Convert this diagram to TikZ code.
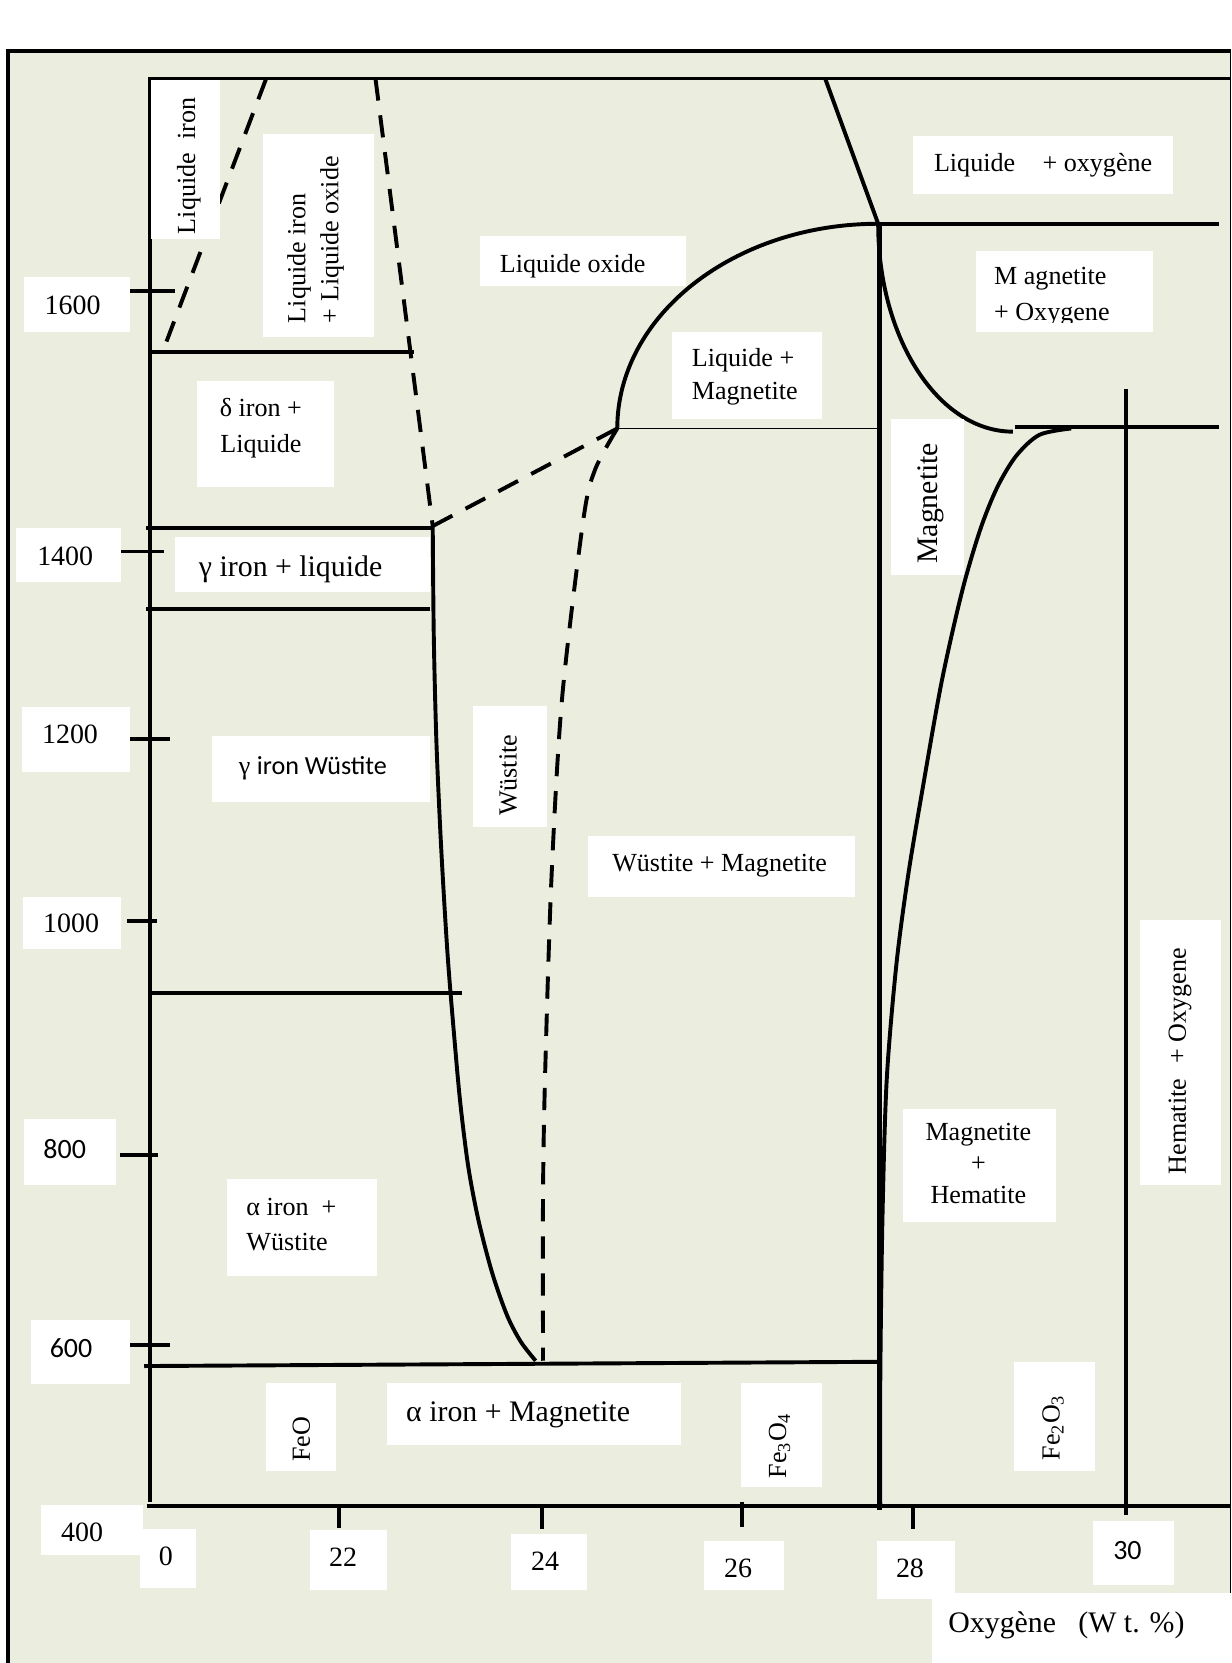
\documentclass[tikz,border=0pt]{standalone}
\usepackage{fontspec}
\setmainfont{Liberation Serif}
\newfontfamily\calibri{Carlito}
\definecolor{fundo}{RGB}{235,238,223}
\setlength{\tabcolsep}{0pt}

\begin{document}
\begin{tikzpicture}[
  every node/.style={inner sep=0pt, text depth=0pt, font=\fontsize{14}{17}\selectfont},
  bloco/.style={text depth=},
  maior/.style={font=\fontsize{16}{19}\selectfont},
  numero/.style={font=\fontsize{15}{18}\selectfont},
  sans/.style={font=\fontsize{15}{18}\selectfont\calibri},
  linha/.style={line width=2.1pt},
  grossa/.style={line width=2.6pt},
  fina/.style={line width=0.9pt},
  tracejada/.style={line width=2.1pt, dash pattern=on 0.42cm off 0.28cm},
  caixa/.style={fill=white}
]

% FUNDO
\useasboundingbox (0,0) rectangle (23.22,-31.36);
\fill[fundo] (0.15,-0.96) rectangle (23.22,-31.36);
\draw[linha] (0.15,-31.36) -- (0.15,-0.96) -- (23.22,-0.96);
\draw[line width=0.5pt] (23.20,-0.96) -- (23.20,-31.36);

% EIXOS
\draw[linha] (2.82,-1.46) -- (2.82,-28.32);
\draw[linha] (2.82,-1.48) -- (23.22,-1.48);
\draw[linha] (2.78,-28.40) -- (23.22,-28.40);

% MARCAS DO EIXO VERTICAL
\draw[linha] (2.46,-5.48) -- (3.30,-5.48);
\draw[linha] (2.28,-10.40) -- (3.10,-10.40);
\draw[linha] (2.46,-13.94) -- (3.20,-13.94);
\draw[linha] (2.40,-17.36) -- (2.96,-17.36);
\draw[linha] (2.26,-21.78) -- (2.98,-21.78);
\draw[linha] (2.46,-25.36) -- (3.20,-25.36);

% MARCAS DO EIXO HORIZONTAL
\draw[linha] (6.40,-28.40) -- (6.40,-28.82);
\draw[linha] (10.22,-28.40) -- (10.22,-28.84);
\draw[linha] (14.00,-28.32) -- (14.00,-28.80);
\draw[linha] (17.22,-28.40) -- (17.22,-28.84);

% LADO DO FERRO
\draw[tracejada] (5.02,-1.48) -- (3.14,-6.44);
\draw[tracejada] (7.08,-1.48) -- (8.16,-9.92);
\draw[linha] (2.82,-6.64) -- (7.80,-6.64);
\draw[linha] (2.76,-9.96) -- (8.12,-9.96);
\draw[linha] (2.76,-11.48) -- (8.10,-11.48);
\draw[linha] (2.84,-18.72) -- (8.72,-18.72);
\draw[tracejada] (8.16,-9.92) -- (11.64,-8.08);

% WUSTITA
\draw[linha]
plot[smooth] coordinates {
(8.16,-9.92) (8.18,-12.00) (8.23,-14.00) (8.32,-16.00) (8.44,-18.00)
(8.57,-19.60) (8.68,-20.80) (8.83,-22.00) (9.02,-23.00) (9.28,-24.00)
(9.56,-24.80) (9.82,-25.30) (10.10,-25.66)};

\draw[tracejada]
plot[smooth] coordinates {
(11.64,-8.08) (11.22,-8.86) (11.00,-9.80) (10.60,-13.16) (10.40,-16.54)
(10.28,-20.24) (10.24,-22.50) (10.24,-25.66)};

\draw[linha] (2.72,-25.76) -- (16.56,-25.68);

% LIQUIDO E MAGNETITA
\draw[linha]
(11.64,-8.08)
arc[start angle=180, end angle=90, x radius=4.92cm, y radius=3.86cm];
\draw[fina] (11.64,-8.08) -- (16.56,-8.08);
\draw[linha] (15.56,-1.48) -- (16.56,-4.22);
\draw[linha] (16.56,-4.22) -- (22.98,-4.22);
\draw[grossa] (16.58,-4.22) -- (16.58,-28.48);

% LADO DO OXIGENIO
\draw[linha]
(16.56,-4.22)
arc[start angle=180, end angle=270, x radius=2.54cm, y radius=3.92cm];
\draw[linha] (19.14,-8.06) -- (22.98,-8.06);

\draw[linha]
plot[smooth] coordinates {
(20.20,-8.08) (19.60,-8.20) (19.16,-8.60) (18.80,-9.20) (18.48,-10.00)
(18.14,-11.16) (17.76,-12.84) (17.40,-14.86) (17.12,-16.54) (16.90,-18.22)
(16.72,-20.38) (16.64,-23.00) (16.60,-26.00) (16.60,-28.40)};

\draw[linha] (21.24,-7.34) -- (21.24,-28.56);

% ROTULOS DO EIXO VERTICAL
\fill[caixa] (0.46,-5.22) rectangle (2.45,-6.26);
\node[numero] (t1600) at (1.37,-5.76) {1600};

\fill[caixa] (0.30,-9.96) rectangle (2.28,-10.98);
\node[numero] (t1400) at (1.23,-10.48) {1400};

\fill[caixa] (0.42,-13.34) rectangle (2.46,-14.56);
\node[numero] (t1200) at (1.32,-13.84) {1200};

\fill[caixa] (0.44,-16.92) rectangle (2.28,-17.90);
\node[numero] (t1000) at (1.34,-17.41) {1000};

\fill[caixa] (0.46,-21.10) rectangle (2.18,-22.34);
\node[sans] (t800) at (1.22,-21.66) {800};

\fill[caixa] (0.58,-24.90) rectangle (2.46,-26.10);
\node[sans] (t600) at (1.34,-25.42) {600};

\fill[caixa] (0.78,-28.38) rectangle (2.70,-29.32);
\node[numero] (t400) at (1.55,-28.90) {400};

% ROTULOS DO EIXO HORIZONTAL
\fill[caixa] (2.64,-28.84) rectangle (3.70,-29.94);
\node[numero] (x0) at (3.13,-29.35) {0};

\fill[caixa] (5.84,-28.86) rectangle (7.30,-29.98);
\node[numero] (x22) at (6.47,-29.37) {22};

\fill[caixa] (9.64,-28.92) rectangle (11.06,-29.98);
\node[numero] (x24) at (10.28,-29.44) {24};

\fill[caixa] (13.28,-29.06) rectangle (14.78,-29.98);
\node[numero] (x26) at (13.92,-29.57) {26};

\fill[caixa] (16.54,-29.06) rectangle (18.00,-30.16);
\node[numero] (x28) at (17.16,-29.57) {28};

\fill[caixa] (20.62,-28.68) rectangle (22.14,-29.88);
\node[sans] (x30) at (21.26,-29.24) {30};

\fill[caixa] (17.58,-30.04) rectangle (23.22,-31.36);
\node[maior] (eixoO) at (20.11,-30.58) {Oxygène\hspace{0.5em} (W t. \%)};

% FASES
\fill[caixa] (2.84,-1.50) rectangle (4.14,-4.50);
\node[rotate=90] (liqFe) at (3.51,-3.13) {Liquide\ \ iron};

\fill[caixa] (4.96,-2.52) rectangle (7.06,-6.36);
\node[bloco, rotate=90] (liqFeOx) at (5.95,-4.52)
{
\begin{tabular}{l}
Liquide iron\\[0.6pt]
+ Liquide oxide
\end{tabular}
};

\fill[caixa] (9.06,-4.45) rectangle (12.94,-5.40);
\node (liqOx) at (10.80,-4.96) {Liquide oxide};

\fill[caixa] (17.22,-2.56) rectangle (22.12,-3.66);
\node (liqO) at (19.67,-3.06) {Liquide\hspace{0.8em} + oxygène};

\fill[caixa] (18.40,-4.74) rectangle (21.74,-6.26);
\begin{scope}
\clip (18.40,-4.74) rectangle (21.74,-6.08);
\node[bloco, anchor=west] (magO) at (18.74,-5.58)
{
\begin{tabular}{l}
M agnetite\\[2.3pt]
+ Oxygene
\end{tabular}
};
\end{scope}

\fill[caixa] (12.68,-6.26) rectangle (15.50,-7.90);
\node[bloco, anchor=west] (liqMag) at (13.04,-7.10)
{
\begin{tabular}{l}
Liquide +\\[1pt]
Magnetite
\end{tabular}
};

\fill[caixa] (3.72,-7.18) rectangle (6.30,-9.18);
\node[bloco] (deltaLiq) at (4.92,-8.08)
{
\begin{tabular}{c}
δ iron +\\[2.3pt]
Liquide
\end{tabular}
};

\fill[caixa] (3.30,-10.12) rectangle (8.10,-11.16);
\node[maior] (gamaLiq) at (5.48,-10.68) {γ iron + liquide};

\fill[caixa] (4.00,-13.88) rectangle (8.10,-15.12);
\node (gamaWus) at (5.90,-14.44) {γ {\calibri iron Wüstite}};

\fill[caixa] (8.92,-13.32) rectangle (10.32,-15.60);
\node[rotate=90] (wus) at (9.58,-14.62) {Wüstite};

\fill[caixa] (11.08,-15.76) rectangle (16.12,-16.92);
\node (wusMag) at (13.57,-16.28) {Wüstite + Magnetite};

\fill[caixa] (16.80,-7.90) rectangle (18.18,-10.84);
\node[maior, rotate=90] (mag) at (17.50,-9.49) {Magnetite};

\fill[caixa] (17.02,-20.92) rectangle (19.92,-23.04);
\node[bloco] (magHem) at (18.45,-21.98)
{
\begin{tabular}{c}
Magnetite\\
+\\
Hematite
\end{tabular}
};

\fill[caixa] (21.50,-17.34) rectangle (23.02,-22.34);
\node[rotate=90] (hemO) at (22.20,-20.01) {Hematite\hspace{0.34em} + Oxygene};

\fill[caixa] (4.28,-22.24) rectangle (7.10,-24.06);
\node[bloco, anchor=west] (alfaWus) at (4.64,-23.13)
{
\begin{tabular}{l}
α iron\ \ +\\[1.7pt]
Wüstite
\end{tabular}
};

\fill[caixa] (5.02,-26.08) rectangle (6.34,-27.74);
\node[rotate=90] (feo) at (5.68,-27.14) {FeO};

\fill[caixa] (7.30,-26.08) rectangle (12.84,-27.24);
\node[maior] (alfaMag) at (9.77,-26.62) {α iron + Magnetite};

\fill[caixa] (13.98,-26.08) rectangle (15.50,-28.04);
\node[rotate=90] (fe3o4) at (14.66,-27.26) {Fe\textsubscript{3}O\textsubscript{4}};

\fill[caixa] (19.12,-25.68) rectangle (20.64,-27.74);
\node[rotate=90] (fe2o3) at (19.82,-26.92) {Fe\textsubscript{2}O\textsubscript{3}};

\end{tikzpicture}
\end{document}
